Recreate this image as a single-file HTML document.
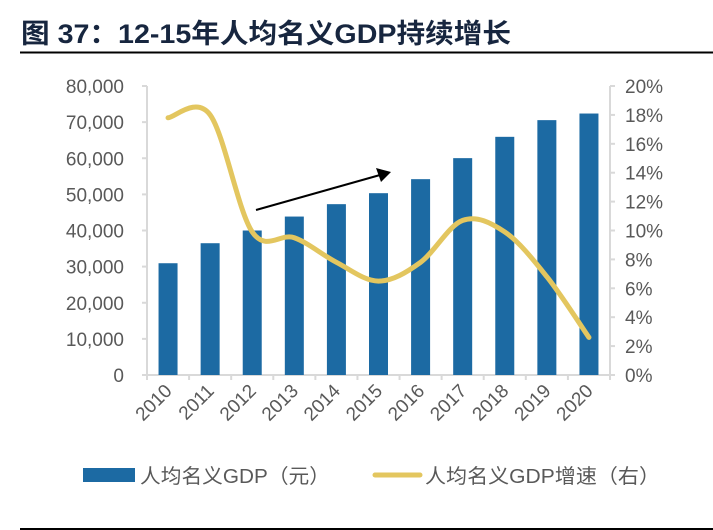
<!DOCTYPE html>
<html><head><meta charset="utf-8">
<style>
body{margin:0;background:#fff;}
svg{display:block;}
text{font-family:"Liberation Sans","Noto Sans CJK SC",sans-serif;}
</style></head>
<body>
<svg id="chart" width="713" height="530" viewBox="0 0 713 530" xmlns="http://www.w3.org/2000/svg">
  <text x="21" y="43" font-size="27" font-weight="bold" fill="#17263f" textLength="490" lengthAdjust="spacingAndGlyphs">图 37：12-15年人均名义GDP持续增长</text>
  <rect x="20" y="51.5" width="693" height="2" fill="#000"/>
  <rect x="20" y="528" width="693" height="2" fill="#000"/>
  <g id="axes"></g>
  <g id="bars"></g>
  <g id="line"></g>
  <g>
    <line x1="256" y1="210" x2="380" y2="175" stroke="#000" stroke-width="2"/>
    <polygon points="391,172 376,168 381,182" fill="#000"/>
  </g>
  <g>
    <rect x="83" y="468" width="52" height="14" fill="#1c6aa3"/>
    <text x="140" y="483" font-size="20" fill="#595959" textLength="190" lengthAdjust="spacingAndGlyphs">人均名义GDP（元）</text>
    <line x1="375" y1="475" x2="420" y2="475" stroke="#e3c65f" stroke-width="5" stroke-linecap="round"/>
    <text x="425" y="483" font-size="20" fill="#595959" textLength="235" lengthAdjust="spacingAndGlyphs">人均名义GDP增速（右）</text>
  </g>
</svg>
<script>
const years = ["2010","2011","2012","2013","2014","2015","2016","2017","2018","2019","2020"];
const gdpValues = [30940,36480,40000,43860,47290,50330,54210,60030,65930,70550,72380];
const growthValues = [17.8,18.0,9.9,9.5,7.8,6.5,7.8,10.7,9.9,6.8,2.6];
const leftTicks = [0,10000,20000,30000,40000,50000,60000,70000,80000];
const leftTickLabels = ["0","10,000","20,000","30,000","40,000","50,000","60,000","70,000","80,000"];
const rightTicks = [0,2,4,6,8,10,12,14,16,18,20];
const rightTickLabels = ["0%","2%","4%","6%","8%","10%","12%","14%","16%","18%","20%"];

const NS = "http://www.w3.org/2000/svg";
const X0 = 147, X1 = 610, Y0 = 375, YT = 86;
const band = (X1 - X0) / years.length;
const xC = i => X0 + band * (i + 0.5);
const yL = v => Y0 - (v / 80000) * (Y0 - YT);
const yR = v => Y0 - (v / 20) * (Y0 - YT);
function mk(tag, attrs, parent, txt){
  const e = document.createElementNS(NS, tag);
  for (const k in attrs) e.setAttribute(k, attrs[k]);
  if (txt !== undefined) e.textContent = txt;
  parent.appendChild(e); return e;
}
const axes = document.getElementById('axes');
const grey = "#d9d9d9", lab = "#595959";
let e;
e = mk('line',{x1:X0,y1:YT,x2:X0,y2:Y0,stroke:grey,'stroke-width':2},axes);


e = mk('line',{x1:X1,y1:YT,x2:X1,y2:Y0,stroke:grey,'stroke-width':2},axes);


e = mk('line',{x1:X0,y1:Y0,x2:X1,y2:Y0,stroke:grey,'stroke-width':2},axes);


leftTicks.forEach((t,i)=>{
  const y = yL(t);
  mk('line',{x1:X0-5,y1:y,x2:X0,y2:y,stroke:grey,'stroke-width':2},axes);
  const tx = mk('text',{x:124,y:y+7,'font-size':19,fill:lab,'text-anchor':'end'},axes,leftTickLabels[i]);
  
  
});
rightTicks.forEach((t,i)=>{
  const y = yR(t);
  mk('line',{x1:X1,y1:y,x2:X1+5,y2:y,stroke:grey,'stroke-width':2},axes);
  const tx = mk('text',{x:625,y:y+7,'font-size':19,fill:lab},axes,rightTickLabels[i]);
  
  
});
for (let i=0;i<=years.length;i++){
  const x = X0 + band*i;
  mk('line',{x1:x,y1:Y0,x2:x,y2:Y0+5,stroke:grey,'stroke-width':2},axes);
}
years.forEach((yr,i)=>{
  const x = xC(i)+5, y = 392;
  const tx = mk('text',{x:x,y:y,'font-size':19,fill:lab,'text-anchor':'end',transform:`rotate(-45 ${x} ${y})`},axes,yr);
  
  
});
const bars = document.getElementById('bars');
const bw = 19;
gdpValues.forEach((v,i)=>{
  const r = mk('rect',{x:xC(i)-bw/2,y:yL(v),width:bw,height:Y0-yL(v),fill:'#1c6aa3'},bars);
  
  
});
const pts = growthValues.map((v,i)=>[xC(i), yR(v)]);
let d = `M${pts[0][0]},${pts[0][1]}`;
for (let i=0;i<pts.length-1;i++){
  const p0 = pts[i-1]||pts[i], p1 = pts[i], p2 = pts[i+1], p3 = pts[i+2]||p2;
  const t = 1/6;
  const c1 = [p1[0]+(p2[0]-p0[0])*t, p1[1]+(p2[1]-p0[1])*t];
  const c2 = [p2[0]-(p3[0]-p1[0])*t, p2[1]-(p3[1]-p1[1])*t];
  d += ` C${c1[0]},${c1[1]} ${c2[0]},${c2[1]} ${p2[0]},${p2[1]}`;
}
const path = mk('path',{d:d,fill:'none',stroke:'#e3c65f','stroke-width':5,'stroke-linecap':'round','stroke-linejoin':'round'},document.getElementById('line'));


</script>
</body></html>
